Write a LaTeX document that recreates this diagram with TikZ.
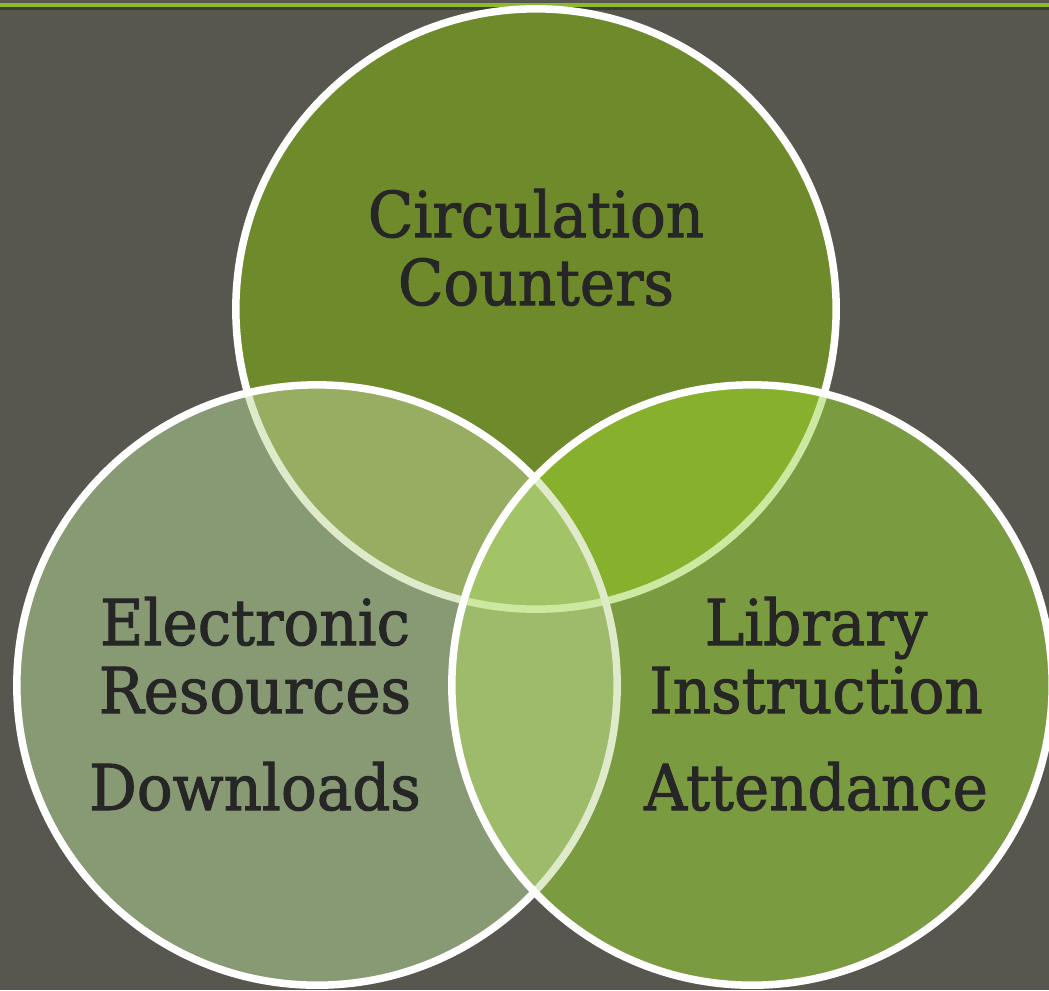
\documentclass[tikz,border=0pt]{standalone}
\usepackage{fontspec}
\setmainfont{DejaVu Serif}
\newfontfamily\lblfont{DejaVu Serif}[FakeBold=1.6]
\definecolor{bg}{HTML}{58574F}
\definecolor{bar}{HTML}{8CBA2C}
\definecolor{shadow}{HTML}{3C3C35}
\definecolor{ctop}{HTML}{6F8A2B}
\definecolor{cleft}{HTML}{889A74}
\definecolor{cright}{HTML}{7B9B41}
\definecolor{ctl}{HTML}{97AD61}
\definecolor{ctr}{HTML}{87B02D}
\definecolor{clr}{HTML}{9DBB6B}
\definecolor{call}{HTML}{A2C466}
\definecolor{paleA}{HTML}{DFEACB}
\definecolor{paleB}{HTML}{CDE8A0}
\definecolor{txt}{HTML}{262626}
\begin{document}
\begin{tikzpicture}[x=0.01cm,y=-0.01cm,
  ring/.style={line width=0.075cm},
  lbl/.style={text=txt, font=\lblfont\fontsize{18}{22}\selectfont, anchor=base, inner sep=0pt, xscale=0.94}]
\useasboundingbox (0,0) rectangle (1049,990);
\fill[bg] (0,0) rectangle (1049,990);
\fill[shadow] (0,5.5) rectangle (1049,10);
\fill[bar] (0,2.5) rectangle (1049,6.5);
\coordinate (T) at (536,309);
\coordinate (L) at (317,685);
\coordinate (R) at (752,685);
\begin{scope}
\clip (0,0) rectangle (1049,990);
% top circle
\fill[ctop] (T) circle[radius=3cm];
\draw[ring,white] (T) circle[radius=3cm];
% left circle
\fill[cleft] (L) circle[radius=3cm];
\begin{scope}
  \clip (L) circle[radius=3cm];
  \fill[ctl] (T) circle[radius=3cm];
  \draw[ring,paleA] (T) circle[radius=3cm];
\end{scope}
\draw[ring,white] (L) circle[radius=3cm];
% right circle
\fill[cright] (R) circle[radius=3cm];
\begin{scope}
  \clip (R) circle[radius=3cm];
  \fill[ctr] (T) circle[radius=3cm];
  \fill[clr] (L) circle[radius=3cm];
  \begin{scope}
    \clip (L) circle[radius=3cm];
    \fill[call] (T) circle[radius=3cm];
  \end{scope}
  \draw[ring,paleB] (T) circle[radius=3cm];
  \draw[ring,paleA] (L) circle[radius=3cm];
\end{scope}
\draw[ring,white] (R) circle[radius=3cm];
\end{scope}
% labels
\node[lbl] (t1) at (536,237) {Circulation};
\node[lbl] (t2) at (536,305) {Counters};
\node[lbl] (l1) at (255,645) {Electronic};
\node[lbl] (l2) at (255,713) {Resources};
\node[lbl] (l3) at (255,810) {Downloads};
\node[lbl] (r1) at (816,645) {Library};
\node[lbl] (r2) at (816,713) {Instruction};
\node[lbl] (r3) at (816,810) {Attendance};
\end{tikzpicture}
\end{document}
